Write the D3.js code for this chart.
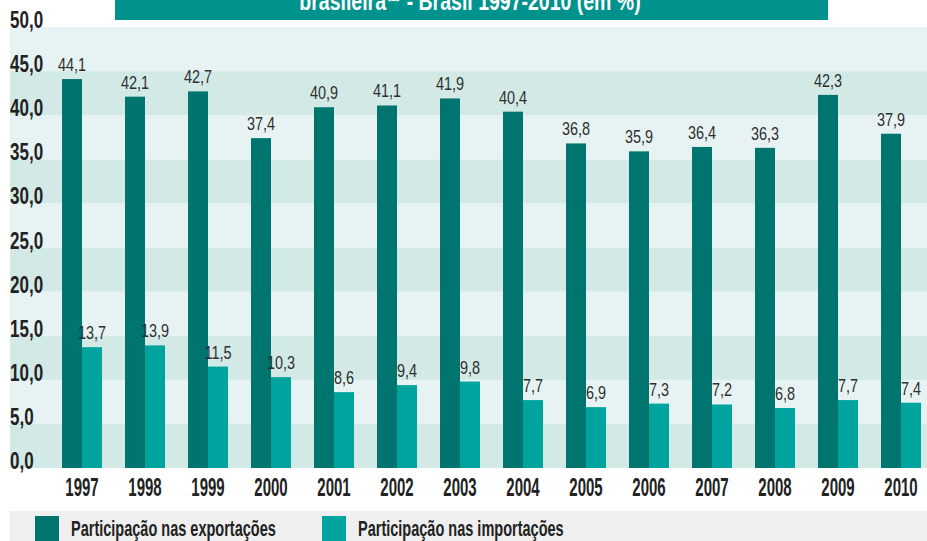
<!DOCTYPE html>
<html>
<head>
<meta charset="utf-8">
<script src="https://cdn.jsdelivr.net/npm/d3@7"></script>
<style>
  html, body { margin: 0; padding: 0; background: #ffffff; }
  svg { display: block; }
  text { font-family: "Liberation Sans", Arial, sans-serif; }
</style>
</head>
<body>
<svg id="chart" width="927" height="541"></svg>
<script>
// Participação na balança comercial brasileira, 1997-2010 (em %)
const years = ["1997","1998","1999","2000","2001","2002","2003","2004","2005","2006","2007","2008","2009","2010"];
const exportacoes = [44.1, 42.1, 42.7, 37.4, 40.9, 41.1, 41.9, 40.4, 36.8, 35.9, 36.4, 36.3, 42.3, 37.9];
const importacoes = [13.7, 13.9, 11.5, 10.3, 8.6, 9.4, 9.8, 7.7, 6.9, 7.3, 7.2, 6.8, 7.7, 7.4];
const yTicks = [0, 5, 10, 15, 20, 25, 30, 35, 40, 45, 50];
const seriesNames = ["Participação nas exportações", "Participação nas importações"];
const titleText = "brasileira⁽¹⁾ - Brasil 1997-2010 (em %)";

const colors = { exp: "#007570", imp: "#00a49f" };
const fmt = v => d3.format(".1f")(v).replace(".", ",");

const svg = d3.select("#chart");
const W = 927;

const y = d3.scaleLinear().domain([0, 50]).range([468, 27]);
const x = d3.scaleBand().domain(years).range([62, 921]).paddingInner(0.365).paddingOuter(0);
const xs = d3.scaleBand().domain(["exp", "imp"]).range([0, x.bandwidth()]);

// condensed lettering: text squeezed horizontally around its anchor
function narrow(sel, px, py, sx) {
  return sel.attr("x", 0).attr("y", 0)
    .attr("transform", (d, i) => `translate(${px(d, i)},${py(d, i)}) scale(${sx},1)`);
}

// title banner (top part cropped)
svg.append("rect").attr("x", 115).attr("y", 0).attr("width", 713).attr("height", 20).attr("fill", "#00938e");
narrow(svg.append("text").datum(titleText), () => 470, () => 10, 0.78)
  .attr("text-anchor", "middle")
  .attr("fill", "#ffffff").attr("font-weight", "bold").attr("font-size", 25)
  .text(d => d);

// alternating horizontal bands
const bands = d3.pairs(yTicks);
svg.append("g").selectAll("rect").data(bands).join("rect")
  .attr("x", 10).attr("width", W - 10)
  .attr("y", d => y(d[1])).attr("height", d => y(d[0]) - y(d[1]))
  .attr("fill", (d, i) => i % 2 === 0 ? "#d2e9e6" : "#e6f3f2");

// y-axis labels, left aligned, sitting on their gridline
narrow(svg.append("g").selectAll("text").data(yTicks).join("text"), () => 10, d => y(d) + 1, 0.74)
  .attr("font-size", 23).attr("font-weight", "bold").attr("fill", "#222222")
  .text(d => fmt(d));

// bars
const groups = svg.append("g").selectAll("g").data(years).join("g")
  .attr("transform", d => `translate(${x(d)},0)`);

groups.append("rect")
  .attr("x", xs("exp")).attr("width", xs.bandwidth())
  .attr("y", (d, i) => y(exportacoes[i])).attr("height", (d, i) => y(0) - y(exportacoes[i]))
  .attr("fill", colors.exp);
groups.append("rect")
  .attr("x", xs("imp")).attr("width", xs.bandwidth())
  .attr("y", (d, i) => y(importacoes[i])).attr("height", (d, i) => y(0) - y(importacoes[i]))
  .attr("fill", colors.imp);

// value labels
narrow(groups.append("text"), () => xs("exp") + xs.bandwidth() / 2, (d, i) => y(exportacoes[i]) - 8, 0.78)
  .attr("text-anchor", "middle").attr("font-size", 18.5).attr("fill", "#2e2e2e")
  .text((d, i) => fmt(exportacoes[i]));
narrow(groups.append("text"), () => xs("imp") + xs.bandwidth() / 2, (d, i) => y(importacoes[i]) - 8, 0.78)
  .attr("text-anchor", "middle").attr("font-size", 18.5).attr("fill", "#2e2e2e")
  .text((d, i) => fmt(importacoes[i]));

// x-axis year labels
narrow(svg.append("g").selectAll("text").data(years).join("text"), d => x(d) + x.bandwidth() / 2, () => 496, 0.6)
  .attr("text-anchor", "middle").attr("font-size", 25).attr("font-weight", "bold").attr("fill", "#222222")
  .text(d => d);

// legend
svg.append("rect").attr("x", 10).attr("y", 511).attr("width", W - 10).attr("height", 30).attr("fill", "#efefef");
const legend = [
  { key: "exp", label: seriesNames[0], x: 35 },
  { key: "imp", label: seriesNames[1], x: 322 }
];
const lg = svg.append("g").selectAll("g").data(legend).join("g")
  .attr("transform", d => `translate(${d.x},0)`);
lg.append("rect").attr("x", 0).attr("y", 516).attr("width", 24).attr("height", 25).attr("fill", d => colors[d.key]);
narrow(lg.append("text"), () => 36, () => 536, 0.66)
  .attr("font-size", 22).attr("font-weight", "bold").attr("fill", "#222222")
  .text(d => d.label);
</script>
</body>
</html>
